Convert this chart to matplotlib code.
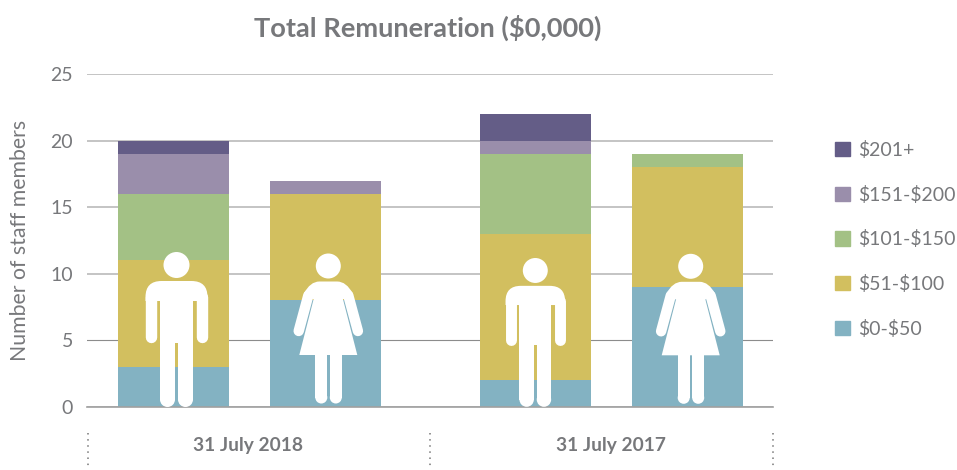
import matplotlib
matplotlib.use("Agg")
import matplotlib.pyplot as plt
from matplotlib.patches import Circle, PathPatch, Patch
from matplotlib.path import Path
from matplotlib.transforms import Affine2D

plt.rcParams["font.family"] = ["Lato", "DejaVu Sans"]

GREY = "#77787b"
GRID = "#b4b4b4"

periods = ["31 July 2018", "31 July 2017"]
bands = [r"\$0-\$50", r"\$51-\$100", r"\$101-\$150", r"\$151-\$200", r"\$201+"]
colors = ["#83b2c2", "#d2bf5f", "#a3c185", "#9a8eab", "#645d87"]

# staff counts per band: 2018 male, 2018 female, 2017 male, 2017 female
band_0_50 = [3, 8, 2, 9]
band_51_100 = [8, 8, 11, 9]
band_101_150 = [5, 0, 6, 1]
band_151_200 = [3, 1, 1, 0]
band_201_up = [1, 0, 2, 0]
series = [band_0_50, band_51_100, band_101_150, band_151_200, band_201_up]

x_pos = [0, 1, 2.382, 3.382]
yticks = [0, 5, 10, 15, 20, 25]

fig = plt.figure(figsize=(9.57, 4.70), dpi=100)
ax = fig.add_axes([87 / 957, 1 - 407 / 470, 686 / 957, 333 / 470])

bottom = [0, 0, 0, 0]
for vals, c, lab in zip(series, colors, bands):
    ax.bar(x_pos, vals, width=0.73, bottom=bottom, color=c, label=lab, zorder=2)
    bottom = [b + v for b, v in zip(bottom, vals)]

ax.set_xlim(-0.569, 3.944)
ax.set_ylim(0, 25)
ax.set_yticks(yticks)
ax.set_xticks([])
ax.tick_params(axis="y", length=0, labelsize=14, labelcolor=GREY, pad=10)
ax.grid(axis="y", color=GRID, lw=1.1, zorder=1)
ax.get_ygridlines()[1].set_color("#8c8c8c")
ax.get_ygridlines()[1].set_linewidth(0.8)
ax.set_axisbelow(True)
for s in ["top", "right", "left"]:
    ax.spines[s].set_visible(False)
ax.spines["bottom"].set_color("#a0a0a0")
ax.spines["bottom"].set_linewidth(1.2)
ax.spines["bottom"].set_zorder(5)
ax.set_ylabel("Number of staff members", fontsize=15.3, color=GREY, labelpad=15)

handles = [Patch(color=c, label=b) for c, b in zip(colors, bands)][::-1]
fig.legend(handles=handles, loc="upper left", bbox_to_anchor=(835 / 957, 1 - 141 / 470),
           frameon=False, fontsize=14, labelcolor=GREY, handlelength=0.77, handleheight=0.77,
           handletextpad=0.41, labelspacing=1.37, borderpad=0, borderaxespad=0)

fig.text(427.5 / 957, 1 - 28 / 470, r"Total Remuneration (\$0,000)", ha="center", va="center",
         fontsize=19.6, fontweight="bold", color=GREY)
fig.text(247.5 / 957, 1 - 445 / 470, periods[0], ha="center", va="center", fontsize=13.8,
         fontweight="bold", color=GREY)
fig.text(611 / 957, 1 - 445 / 470, periods[1], ha="center", va="center", fontsize=13.8,
         fontweight="bold", color=GREY)

# overlay in pixel coordinates for the pictograms and separators
over = fig.add_axes([0, 0, 1, 1], facecolor="none")
over.set_xlim(0, 957)
over.set_ylim(470, 0)
over.axis("off")

for px in [87.5, 430, 773]:
    over.plot([px, px], [433, 468], color="#777777", lw=1.1, ls=(0, (1, 3)))


def stroke(tr, pts, w):
    # limb as a thick round-capped line, w in icon pixels
    xs, ys = zip(*pts)
    over.plot(xs, ys, color="white", lw=w * 0.72, solid_capstyle="round", transform=tr, zorder=6)


def shape(tr, verts, codes):
    over.add_patch(PathPatch(Path(verts, codes), fc="white", ec="none", transform=tr, zorder=6))


def leg(tr, x0, x1, y0, y1):
    # flat top, round foot
    r = (x1 - x0) / 2
    over.fill([x0, x1, x1, x0], [y0, y0, y1 - r, y1 - r], color="white", lw=0, transform=tr, zorder=6)
    over.add_patch(Circle(((x0 + x1) / 2, y1 - r), r, fc="white", ec="none", transform=tr, zorder=6))


def man(cx, top, s):
    tr = Affine2D().scale(s).translate(cx, top) + over.transData
    over.add_patch(Circle((0, 13), 13, fc="white", ec="none", transform=tr, zorder=6))
    verts = [(-31, 45), (-31, 29), (-15, 29), (15, 29), (31, 29), (31, 45), (31, 49), (-31, 49), (-31, 45)]
    codes = [Path.MOVETO, Path.CURVE3, Path.CURVE3, Path.LINETO, Path.CURVE3, Path.CURVE3,
             Path.LINETO, Path.LINETO, Path.CLOSEPOLY]
    shape(tr, verts, codes)
    over.fill([-16.5, 16.5, 16.5, -16.5], [40, 40, 91, 91], color="white", lw=0, transform=tr, zorder=6)
    stroke(tr, [(-25.3, 45), (-25.3, 85)], 11.4 * s)
    stroke(tr, [(25.3, 45), (25.3, 85)], 11.4 * s)
    leg(tr, -16.5, -1.5, 91, 155)
    leg(tr, 1.5, 16.5, 91, 155)


def woman(cx, top):
    tr = Affine2D().translate(cx, top) + over.transData
    over.add_patch(Circle((0, 12.5), 12.5, fc="white", ec="none", transform=tr, zorder=6))
    verts = [(-24.5, 40), (-18, 28), (-9, 28), (9, 28), (18, 28), (24.5, 40), (15.6, 45.5), (-15.6, 45.5), (-24.5, 40)]
    codes = [Path.MOVETO, Path.CURVE3, Path.CURVE3, Path.LINETO, Path.CURVE3, Path.CURVE3,
             Path.LINETO, Path.LINETO, Path.CLOSEPOLY]
    shape(tr, verts, codes)
    shape(tr, [(-14.5, 45), (-29, 101.5), (29, 101.5), (14.5, 45), (-14.5, 45)],
          [Path.MOVETO, Path.LINETO, Path.LINETO, Path.LINETO, Path.CLOSEPOLY])
    stroke(tr, [(-20, 42), (-29.6, 77.5)], 10.4)
    stroke(tr, [(20, 42), (29.6, 77.5)], 10.4)
    leg(tr, -13, -1, 101, 150)
    leg(tr, 1.5, 13.5, 101, 150)


man(176.5, 252, 1.0)
woman(328.3, 253.5)
man(535.3, 258, 0.96)
woman(690.7, 253.8)

fig.savefig("out.png", dpi=100)
